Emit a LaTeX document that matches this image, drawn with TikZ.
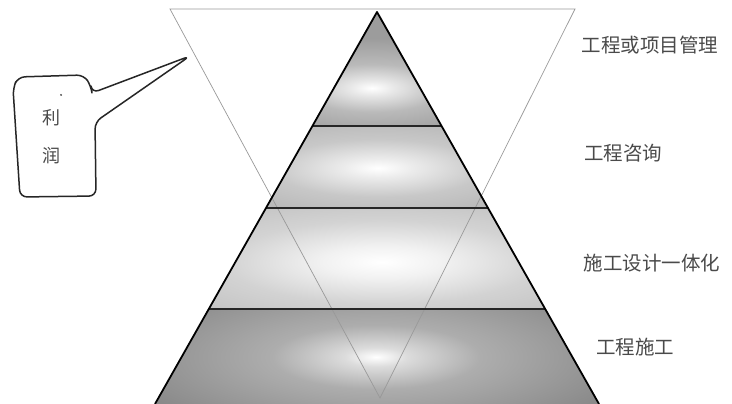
\documentclass[tikz,border=0pt]{standalone}
\usepackage{fontspec}
\newfontfamily\cjk{Noto Sans CJK SC}
\usetikzlibrary{calc}
\definecolor{bandA}{HTML}{9C9C9C}
\definecolor{bandB}{HTML}{B0B0B0}
\definecolor{bandC}{HTML}{BBBBBB}
\definecolor{bandD}{HTML}{8A8A8A}
\definecolor{labelgray}{HTML}{4A4A4A}
\pgfdeclareradialshading{glowA}{\pgfpoint{0bp}{0bp}}{color(0bp)=(white); color(4bp)=(white!75!bandA); color(12bp)=(white!30!bandA); color(25bp)=(bandA); color(50bp)=(bandA)}
\pgfdeclareradialshading{glowB}{\pgfpoint{0bp}{0bp}}{color(0bp)=(white); color(4bp)=(white!75!bandB); color(12bp)=(white!30!bandB); color(25bp)=(bandB); color(50bp)=(bandB)}
\pgfdeclareradialshading{glowC}{\pgfpoint{0bp}{0bp}}{color(0bp)=(white); color(5bp)=(white!80!bandC); color(13bp)=(white!35!bandC); color(25bp)=(bandC); color(50bp)=(bandC)}
\pgfdeclareradialshading{glowD}{\pgfpoint{0bp}{0bp}}{color(0bp)=(white); color(3bp)=(white!70!bandD); color(10bp)=(white!30!bandD); color(25bp)=(bandD); color(50bp)=(bandD)}
\tikzset{
  lbl/.style={font=\cjk\fontsize{19.5}{19.5}\selectfont, text=labelgray, inner sep=0pt},
  calloutlbl/.style={font=\cjk\fontsize{18}{18}\selectfont, text=labelgray, inner sep=0pt},
  pyredge/.style={line width=1.8pt, black, line join=round},
  divider/.style={line width=1.3pt, black!85},
  invtri/.style={line width=0.7pt, gray!80},
}
\begin{document}
\begin{tikzpicture}[x=1pt,y=-1pt]
\useasboundingbox (0,0) rectangle (732,404);
\fill[white] (0,0) rectangle (732,404);
% pyramid key points
\coordinate (A) at (377,12);
\coordinate (BL) at (155,404);
\coordinate (BR) at (599,404);
\coordinate (L1) at ($(A)!0.2908!(BL)$);
\coordinate (R1) at ($(A)!0.2908!(BR)$);
\coordinate (L2) at ($(A)!0.5!(BL)$);
\coordinate (R2) at ($(A)!0.5!(BR)$);
\coordinate (L3) at ($(A)!0.7577!(BL)$);
\coordinate (R3) at ($(A)!0.7577!(BR)$);
% band 1
\begin{scope}
\clip (A) -- (R1) -- (L1) -- cycle;
\fill[bandA] (A) -- (R1) -- (L1) -- cycle;
\shade[shading=glowA] (372,88) ellipse (150 and 50);
\end{scope}
% band 2
\begin{scope}
\clip (L1) -- (R1) -- (R2) -- (L2) -- cycle;
\fill[bandB] (L1) -- (R1) -- (R2) -- (L2) -- cycle;
\shade[shading=glowB] (378,168) ellipse (220 and 60);
\end{scope}
% band 3
\begin{scope}
\clip (L2) -- (R2) -- (R3) -- (L3) -- cycle;
\fill[bandC] (L2) -- (R2) -- (R3) -- (L3) -- cycle;
\shade[shading=glowC] (382,262) ellipse (300 and 80);
\end{scope}
% band 4
\begin{scope}
\clip (L3) -- (R3) -- (BR) -- (BL) -- cycle;
\fill[bandD] (L3) -- (R3) -- (BR) -- (BL) -- cycle;
\shade[shading=glowD] (376,357) ellipse (260 and 80);
\end{scope}
% inverted triangle
\coordinate (T1) at (170,9);
\coordinate (T2) at (575,9);
\coordinate (T3) at (380,398);
\draw[invtri] (T1) -- (T2) -- (T3) -- cycle;
% dividers
\draw[divider] (L1) -- (R1);
\draw[divider] (L2) -- (R2);
\draw[divider] (L3) -- (R3);
% pyramid edges
\draw[pyredge] (BL) -- (A) -- (BR);
% callout
\coordinate (tip) at (190,56);
\draw[line width=1.5pt, black!85, line join=round, rounded corners=7pt]
  (92,93) -- (tip) -- (95,122) -- (96,196) -- (20,197) -- (13,88) -- (18,77) -- (84,75) -- (91,86) -- cycle;
\fill[labelgray] (61,95) circle (1pt);
\node[calloutlbl] (li) at (51,118) {利};
\node[calloutlbl] (run) at (51,156) {润};
% labels
\node[lbl] (l1) at (650,45) {工程或项目管理};
\node[lbl] (l2) at (623,153) {工程咨询};
\node[lbl] (l3) at (652,263) {施工设计一体化};
\node[lbl] (l4) at (635,347) {工程施工};
\end{tikzpicture}
\end{document}
